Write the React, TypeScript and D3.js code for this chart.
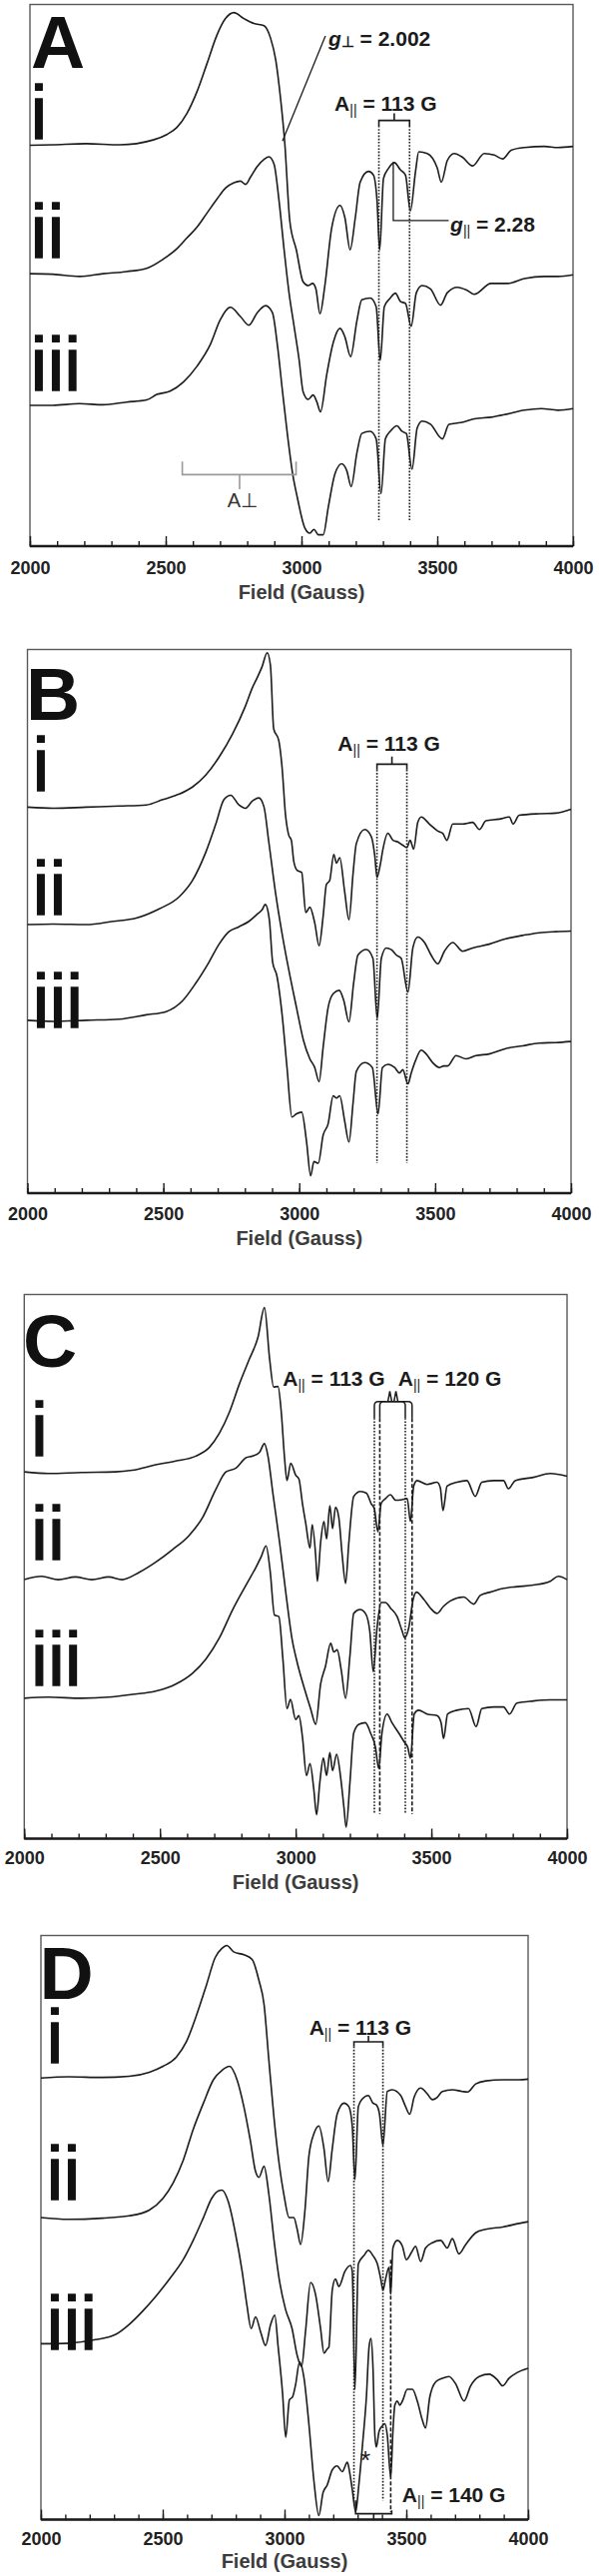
import React, { useEffect, useRef } from "react";
import * as d3 from "d3";

type Pt = [number, number];

// EPR spectra, [field (G), intensity in % of plot height]
const traceAi: Pt[] = [[2000,74.0],[2084,74.1],[2207,74.3],[2331,74.1],[2454,75.0],[2504,76.0],[2541,77.3],[2578,79.9],[2615,83.9],[2652,89.1],[2689,94.4],[2720,97.4],[2751,98.5],[2788,97.4],[2825,96.5],[2862,96.1],[2886,93.8],[2905,89.8],[2923,82.6],[2938,74.7],[2957,60.0],[2981,54.7],[3006,48.8],[3025,48.1],[3041,48.5],[3053,47.5],[3068,42.9],[3086,48.1],[3111,58.7],[3142,62.9],[3160,60.6],[3179,54.7],[3198,60.6],[3216,67.2],[3247,69.2],[3265,68.5],[3278,63.9],[3288,54.7],[3302,67.9],[3321,69.8],[3342,70.8],[3364,69.5],[3383,68.5],[3401,61.9],[3420,69.2],[3432,72.8],[3463,72.5],[3500,69.8],[3515,67.2],[3537,71.2],[3562,72.5],[3593,71.8],[3630,70.2],[3673,72.5],[3710,72.2],[3741,71.5],[3772,73.1],[3821,73.6],[3895,73.8],[3944,73.6],[4000,73.8]];
const traceAii: Pt[] = [[2000,50.3],[2084,50.2],[2183,49.8],[2269,50.3],[2356,50.7],[2430,51.3],[2491,53.0],[2541,54.9],[2578,56.9],[2615,58.9],[2652,61.5],[2689,64.1],[2720,66.1],[2751,67.1],[2775,67.4],[2794,66.8],[2812,68.1],[2837,70.1],[2862,71.4],[2880,71.9],[2899,70.5],[2917,63.9],[2936,54.7],[2954,46.8],[2973,40.5],[2991,34.5],[3006,28.5],[3025,27.1],[3043,27.9],[3056,26.7],[3070,24.8],[3093,31.7],[3117,37.6],[3142,40.2],[3160,38.6],[3181,35.0],[3204,41.6],[3222,45.5],[3253,45.8],[3275,44.2],[3290,34.3],[3305,44.2],[3327,45.8],[3346,46.7],[3364,45.2],[3383,44.8],[3404,40.6],[3423,46.8],[3444,48.1],[3475,47.5],[3512,44.5],[3537,46.8],[3574,47.8],[3611,47.2],[3636,46.5],[3698,48.5],[3759,48.5],[3821,49.4],[3895,49.8],[3944,49.8],[4000,50.1]];
const traceAiii: Pt[] = [[2000,26.0],[2084,26.0],[2183,26.3],[2269,26.1],[2356,26.6],[2430,27.0],[2467,28.0],[2516,28.6],[2565,30.3],[2615,33.2],[2664,37.2],[2701,41.8],[2738,44.1],[2775,42.4],[2806,40.8],[2837,43.1],[2868,44.4],[2893,43.1],[2911,37.2],[2930,28.6],[2948,20.7],[2967,13.5],[2985,8.9],[3012,3.4],[3031,2.4],[3046,3.1],[3062,2.1],[3080,2.1],[3099,7.3],[3123,13.3],[3148,15.2],[3167,13.9],[3183,11.0],[3204,17.2],[3222,20.8],[3253,21.2],[3275,19.8],[3293,9.7],[3309,19.8],[3327,21.2],[3352,22.2],[3370,21.2],[3386,20.8],[3407,14.2],[3426,21.8],[3444,23.1],[3475,22.5],[3519,19.8],[3543,22.5],[3586,22.8],[3636,23.5],[3698,23.8],[3759,24.4],[3821,25.1],[3883,25.4],[3944,25.1],[4000,25.4]];

const traceBi: Pt[] = [[2000,71.0],[2095,70.8],[2217,71.0],[2339,71.2],[2437,71.4],[2498,72.4],[2558,73.4],[2607,74.7],[2656,76.9],[2705,80.2],[2754,84.4],[2802,89.6],[2827,92.9],[2845,94.8],[2863,96.8],[2882,99.4],[2894,97.1],[2906,85.4],[2924,83.4],[2937,78.2],[2949,69.8],[2961,65.9],[2971,64.9],[2980,61.0],[2992,59.4],[3009,59.0],[3024,51.6],[3039,52.6],[3057,49.7],[3073,45.5],[3088,51.0],[3100,56.8],[3112,57.5],[3127,62.3],[3137,60.7],[3149,61.7],[3167,55.5],[3183,50.3],[3198,58.8],[3210,64.3],[3241,66.9],[3265,65.6],[3278,62.0],[3286,58.1],[3298,60.4],[3308,63.3],[3326,66.2],[3345,64.9],[3363,64.6],[3381,64.0],[3396,63.6],[3408,64.9],[3421,63.3],[3436,68.2],[3449,69.2],[3479,67.9],[3510,66.6],[3528,66.2],[3543,64.9],[3565,67.9],[3601,67.9],[3638,68.2],[3663,66.9],[3687,68.5],[3736,68.8],[3773,69.2],[3787,67.9],[3809,69.5],[3883,69.8],[3944,69.9],[4000,70.6]];
const traceBii: Pt[] = [[2000,49.4],[2095,49.5],[2217,49.4],[2315,50.0],[2400,50.6],[2485,52.3],[2558,54.5],[2607,57.5],[2656,62.7],[2693,67.9],[2723,72.4],[2748,73.2],[2778,71.4],[2802,70.8],[2827,72.1],[2851,72.7],[2870,71.1],[2888,64.6],[2912,55.5],[2937,47.7],[2961,41.2],[2990,34.1],[3015,28.2],[3039,24.7],[3057,23.1],[3073,20.5],[3088,26.9],[3106,34.1],[3125,36.7],[3147,37.3],[3164,35.4],[3183,31.5],[3200,38.6],[3216,43.8],[3247,44.8],[3271,43.2],[3287,32.1],[3302,43.2],[3320,45.1],[3339,44.8],[3357,43.8],[3375,43.2],[3400,37.0],[3418,45.1],[3436,47.1],[3461,46.1],[3485,43.8],[3510,42.2],[3534,44.5],[3565,46.1],[3601,44.5],[3638,45.1],[3699,45.8],[3760,46.8],[3822,47.4],[3883,47.9],[3944,48.1],[4000,48.2]];
const traceBiii: Pt[] = [[2000,31.8],[2095,31.6],[2217,31.8],[2339,32.0],[2437,32.8],[2510,33.4],[2571,35.4],[2619,38.6],[2668,42.5],[2705,45.8],[2741,48.1],[2778,49.0],[2815,50.0],[2845,51.3],[2863,52.1],[2875,53.1],[2890,50.3],[2902,42.5],[2918,39.9],[2937,32.8],[2955,23.1],[2973,14.0],[2990,14.6],[3009,14.9],[3027,9.4],[3042,3.2],[3054,5.8],[3070,5.5],[3088,10.7],[3106,12.7],[3125,17.9],[3137,17.5],[3149,17.9],[3167,13.3],[3183,9.4],[3198,16.6],[3210,22.4],[3241,24.0],[3269,23.1],[3290,14.6],[3306,23.1],[3326,23.7],[3351,23.1],[3369,22.1],[3381,22.7],[3400,20.1],[3412,22.1],[3428,24.4],[3449,26.3],[3467,25.6],[3491,24.0],[3516,23.1],[3531,23.4],[3546,23.4],[3577,25.3],[3614,24.7],[3650,25.3],[3699,25.6],[3760,26.6],[3822,27.1],[3883,27.6],[3944,27.7],[4000,27.9]];

const traceCi: Pt[] = [[2000,67.4],[2089,67.1],[2212,67.3],[2336,67.4],[2398,67.7],[2484,68.7],[2558,69.4],[2632,70.3],[2682,71.9],[2719,74.5],[2756,78.4],[2793,83.6],[2830,88.2],[2861,92.1],[2885,97.6],[2904,88.2],[2919,83.0],[2935,83.1],[2947,78.4],[2959,70.0],[2968,65.8],[2982,69.0],[3000,66.8],[3012,66.1],[3025,61.6],[3037,58.0],[3053,53.4],[3061,57.7],[3074,51.8],[3080,47.3],[3092,54.4],[3104,58.3],[3114,55.1],[3126,61.2],[3136,57.0],[3147,60.9],[3159,59.0],[3172,51.8],[3184,46.9],[3196,54.4],[3214,62.9],[3239,63.8],[3261,63.5],[3278,61.6],[3290,60.6],[3303,56.4],[3315,61.6],[3331,62.5],[3349,63.2],[3368,62.2],[3392,62.3],[3411,62.5],[3423,58.3],[3435,64.8],[3447,65.8],[3484,65.1],[3521,65.5],[3533,64.5],[3543,60.3],[3558,64.8],[3594,65.5],[3631,65.8],[3662,62.9],[3686,65.5],[3729,65.8],[3766,65.8],[3784,64.3],[3809,65.8],[3876,66.4],[3938,67.1],[4000,66.6]];
const traceCii: Pt[] = [[2000,47.6],[2064,48.2],[2126,47.6],[2188,48.1],[2249,47.6],[2311,48.1],[2360,47.6],[2422,48.9],[2484,50.8],[2546,53.1],[2607,55.7],[2657,59.0],[2706,64.2],[2743,67.4],[2780,68.1],[2817,70.0],[2842,70.3],[2867,71.0],[2885,72.6],[2898,70.3],[2916,63.5],[2941,54.4],[2965,44.7],[2986,36.9],[3006,32.3],[3031,27.8],[3055,23.9],[3074,21.0],[3092,28.4],[3110,31.7],[3129,35.9],[3141,34.3],[3153,34.7],[3168,31.0],[3184,25.8],[3200,33.6],[3214,41.4],[3237,42.1],[3257,41.4],[3273,38.2],[3286,30.7],[3300,38.8],[3315,43.4],[3331,43.4],[3349,42.4],[3374,40.8],[3392,38.2],[3402,36.9],[3417,38.8],[3433,44.0],[3445,45.3],[3472,44.0],[3496,42.4],[3521,41.4],[3545,42.7],[3570,43.7],[3619,44.4],[3656,43.1],[3680,44.7],[3717,45.3],[3766,46.0],[3815,46.3],[3876,46.6],[3938,47.3],[3968,48.2],[4000,47.6]];
const traceCiii: Pt[] = [[2000,25.8],[2089,26.0],[2212,25.8],[2311,26.0],[2398,26.5],[2484,27.1],[2558,28.4],[2620,30.4],[2669,33.0],[2719,36.9],[2768,42.1],[2817,46.6],[2854,49.9],[2873,51.8],[2891,53.8],[2906,49.2],[2922,41.1],[2938,40.8],[2953,33.0],[2968,23.9],[2981,25.6],[3000,21.9],[3012,22.6],[3025,18.7],[3040,11.6],[3053,13.8],[3067,9.0],[3077,4.4],[3089,10.3],[3102,14.8],[3114,11.6],[3126,15.8],[3136,12.5],[3151,15.5],[3165,11.6],[3178,5.7],[3186,2.1],[3200,10.3],[3214,19.4],[3233,21.0],[3257,21.3],[3276,19.4],[3294,16.8],[3306,12.9],[3318,19.4],[3337,22.9],[3355,21.3],[3380,19.4],[3401,17.7],[3413,16.8],[3423,14.8],[3437,22.9],[3453,23.6],[3484,22.9],[3521,22.6],[3536,21.3],[3545,18.4],[3560,22.9],[3594,23.6],[3637,23.9],[3665,20.6],[3686,23.9],[3729,24.2],[3766,24.2],[3788,22.9],[3815,24.9],[3876,25.3],[3938,25.5],[4000,25.5]];

const traceDi: Pt[] = [[2000,75.6],[2113,75.8],[2252,75.7],[2362,75.9],[2445,76.6],[2501,77.6],[2556,79.2],[2597,81.8],[2639,86.4],[2680,91.6],[2715,96.2],[2743,97.8],[2763,98.3],[2791,97.2],[2833,96.7],[2867,95.9],[2895,92.3],[2916,88.2],[2936,78.5],[2957,68.7],[2978,60.9],[2998,55.5],[3019,51.7],[3038,51.7],[3052,49.7],[3066,47.1],[3084,53.0],[3100,62.2],[3121,66.1],[3141,67.4],[3162,63.5],[3179,57.9],[3196,63.5],[3216,69.4],[3244,71.3],[3264,70.7],[3278,67.4],[3289,58.2],[3303,70.7],[3319,72.0],[3344,72.6],[3363,71.3],[3377,71.0],[3390,69.4],[3404,64.1],[3422,73.3],[3442,73.6],[3477,72.6],[3497,70.7],[3514,69.4],[3532,72.3],[3559,73.9],[3586,72.9],[3607,71.9],[3627,72.3],[3648,73.3],[3689,73.6],[3730,73.3],[3751,73.2],[3785,74.6],[3826,75.1],[3895,75.3],[3963,75.3],[4000,75.4]];
const traceDii: Pt[] = [[2000,51.7],[2113,51.4],[2252,51.6],[2362,52.0],[2445,53.0],[2501,55.0],[2542,57.6],[2584,61.5],[2625,66.8],[2667,71.3],[2708,75.3],[2743,76.9],[2774,77.6],[2805,75.3],[2833,70.7],[2860,64.8],[2881,59.6],[2895,58.6],[2916,60.5],[2936,55.6],[2957,47.8],[2978,41.2],[3004,36.0],[3031,32.7],[3052,28.1],[3070,26.2],[3086,32.1],[3107,40.6],[3127,38.6],[3148,32.7],[3162,28.5],[3175,29.2],[3182,29.5],[3196,39.3],[3209,41.2],[3223,39.9],[3248,42.5],[3271,43.5],[3278,42.5],[3289,22.3],[3303,43.8],[3326,45.2],[3344,46.1],[3363,45.2],[3381,43.8],[3395,41.2],[3404,39.3],[3415,41.2],[3429,43.2],[3436,38.6],[3445,46.5],[3463,47.8],[3484,46.8],[3500,44.5],[3522,45.8],[3538,46.8],[3559,44.2],[3579,46.5],[3607,47.4],[3641,47.8],[3668,46.5],[3689,48.1],[3716,45.5],[3744,47.1],[3785,49.1],[3826,49.7],[3895,50.1],[3963,50.7],[4000,51.0]];
const traceDiii: Pt[] = [[2000,30.1],[2113,30.2],[2224,30.8],[2307,31.7],[2362,33.4],[2418,35.7],[2473,38.3],[2528,41.2],[2584,44.5],[2625,47.8],[2667,51.7],[2701,55.0],[2729,56.3],[2743,56.4],[2770,54.3],[2798,49.1],[2826,42.5],[2846,36.6],[2863,32.7],[2881,34.7],[2902,32.1],[2922,29.8],[2943,33.4],[2960,35.0],[2974,29.5],[2992,21.6],[3005,14.1],[3020,20.5],[3033,21.0],[3045,23.0],[3062,27.0],[3079,24.5],[3100,16.4],[3121,6.5],[3141,0.7],[3158,4.6],[3175,5.9],[3196,8.5],[3216,9.2],[3237,8.2],[3258,9.8],[3267,8.2],[3278,5.2],[3292,1.3],[3305,5.9],[3322,13.7],[3336,20.9],[3347,29.5],[3355,31.0],[3363,26.2],[3371,14.4],[3377,12.4],[3388,15.1],[3401,16.0],[3412,16.4],[3422,14.4],[3436,7.2],[3445,15.1],[3453,19.6],[3463,20.3],[3473,19.6],[3484,20.3],[3504,22.3],[3525,22.3],[3545,20.3],[3566,17.0],[3579,15.7],[3596,20.9],[3621,23.6],[3648,24.2],[3675,24.5],[3703,23.2],[3737,20.3],[3764,22.9],[3799,24.5],[3840,24.9],[3874,23.9],[3895,22.9],[3922,24.2],[3956,25.2],[4000,25.9]];

const majorTicks = [2000, 2500, 3000, 3500, 4000];
const minorTicks = d3.range(2000, 4001, 100);
const romanLabels = ["i", "ii", "iii"];

const ink = "#1b1b1b";
const armFont = "'Liberation Sans', Arial, sans-serif";

type Scale = d3.ScaleLinear<number, number>;

const AParallel = ({ x, y, value, anchor = "middle" }: { x: number; y: number; value: string; anchor?: string }) => (
  <text x={x} y={y} textAnchor={anchor} fontFamily={armFont} fontWeight="bold" fontSize={21} fill={ink}>
    A<tspan fontSize={14} fontWeight="normal" dy={4}>||</tspan>
    <tspan dy={-4}>{` = ${value}`}</tspan>
  </text>
);

const Bracket = ({ x, y, f0, f1, top, bottom, tip }: { x: Scale; y: Scale; f0: number; f1: number; top: number; bottom: number; tip: number }) => {
  const xc = x((f0 + f1) / 2);
  return (
    <path
      d={`M${x(f0)},${y(bottom)}V${y(top)}H${x(f1)}V${y(bottom)}M${xc},${y(top)}V${y(tip)}`}
      fill="none" stroke={ink} strokeWidth={1.6}
    />
  );
};

const VLine = ({ x, y, f, from, to, dash }: { x: Scale; y: Scale; f: number; from: number; to: number; dash: string }) => (
  <line x1={x(f)} x2={x(f)} y1={y(from)} y2={y(to)} stroke={ink} strokeWidth={1.6} strokeDasharray={dash} />
);

const dotted = "1.6 1.6";
const dashed = "4 2";

const annotateA = (x: Scale, y: Scale) => (
  <g>
    <line x1={x(2930)} y1={y(74.8)} x2={x(3088)} y2={y(94.2)} stroke={ink} strokeWidth={1.3} />
    <text x={x(3099)} y={y(92.4)} fontFamily={armFont} fontWeight="bold" fontSize={21} fill={ink}>
      <tspan fontStyle="italic">g</tspan>
      <tspan fontSize={15} dy={1}>⊥</tspan>
      <tspan dy={-1}>{" = 2.002"}</tspan>
    </text>
    <AParallel x={x(3310)} y={y(80.4)} value="113 G" />
    <Bracket x={x} y={y} f0={3285} f1={3398} top={78.6} bottom={77.6} tip={79.9} />
    <VLine x={x} y={y} f={3285} from={77.6} to={4.8} dash={dotted} />
    <VLine x={x} y={y} f={3398} from={77.6} to={4.8} dash={dotted} />
    <path d={`M${x(3338)},${y(70.9)}V${y(60.1)}H${x(3542)}`} fill="none" stroke={ink} strokeWidth={1.3} />
    <text x={x(3548)} y={y(58.1)} fontFamily={armFont} fontWeight="bold" fontSize={21} fill={ink}>
      <tspan fontStyle="italic">g</tspan>
      <tspan fontSize={14} fontWeight="normal" dy={4}>||</tspan>
      <tspan dy={-4}>{" = 2.28"}</tspan>
    </text>
    <path
      d={`M${x(2561)},${y(15.6)}V${y(13.2)}H${x(2980)}V${y(15.6)}M${x(2772)},${y(13.2)}V${y(10.5)}`}
      fill="none" stroke="#9a9a9a" strokeWidth={1.6}
    />
    <text x={x(2783)} y={y(7.2)} textAnchor="middle" fontFamily={armFont} fontSize={20} fill="#333">A⊥</text>
  </g>
);

const annotateB = (x: Scale, y: Scale) => (
  <g>
    <AParallel x={x(3330)} y={y(81.4)} value="113 G" />
    <Bracket x={x} y={y} f0={3286} f1={3396} top={78.9} bottom={77.9} tip={80.3} />
    <VLine x={x} y={y} f={3286} from={77.9} to={5.5} dash={dotted} />
    <VLine x={x} y={y} f={3396} from={77.9} to={5.5} dash={dotted} />
  </g>
);

const roundBracket = (x: Scale, y: Scale, f0: number, f1: number, top: number, bottom: number, tip: number) => {
  const r = 4;
  const x0 = x(f0), x1 = x(f1), yt = y(top), yb = y(bottom), xc = x((f0 + f1) / 2);
  return `M${x0},${yb}V${yt + r}Q${x0},${yt} ${x0 + r},${yt}H${x1 - r}Q${x1},${yt} ${x1},${yt + r}V${yb}M${xc - 2},${yt}L${xc},${y(tip)}L${xc + 2},${yt}`;
};

const annotateC = (x: Scale, y: Scale) => (
  <g>
    <AParallel x={x(3141)} y={y(83.2)} value="113 G" />
    <AParallel x={x(3568)} y={y(83.2)} value="120 G" />
    <path d={roundBracket(x, y, 3290, 3404, 80.3, 77.3, 82.2)} fill="none" stroke={ink} strokeWidth={1.5} />
    <path d={roundBracket(x, y, 3310, 3429, 80.3, 77.3, 82.2)} fill="none" stroke={ink} strokeWidth={1.5} />
    <VLine x={x} y={y} f={3290} from={77.3} to={4.5} dash={dotted} />
    <VLine x={x} y={y} f={3404} from={77.3} to={4.5} dash={dotted} />
    <VLine x={x} y={y} f={3310} from={77.3} to={4.5} dash={dashed} />
    <VLine x={x} y={y} f={3429} from={77.3} to={4.5} dash={dashed} />
  </g>
);

const annotateD = (x: Scale, y: Scale) => (
  <g>
    <AParallel x={x(3311)} y={y(83.0)} value="113 G" />
    <Bracket x={x} y={y} f0={3285} f1={3404} top={81.8} bottom={81.0} tip={82.8} />
    <VLine x={x} y={y} f={3285} from={81.0} to={3.3} dash={dotted} />
    <VLine x={x} y={y} f={3404} from={81.0} to={3.3} dash={dotted} />
    <VLine x={x} y={y} f={3436} from={44.5} to={1.3} dash={dashed} />
    <path
      d={`M${x(3292)},${y(3.3)}V${y(1.0)}H${x(3440)}V${y(1.6)}M${x(3366)},${y(1.0)}V${y(0)}`}
      fill="none" stroke={ink} strokeWidth={1.6}
    />
    <AParallel x={x(3483)} y={y(3.0)} value="140 G" anchor="start" />
    <text x={x(3332)} y={y(8.6)} textAnchor="middle" fontFamily={armFont} fontSize={26} fill={ink}>*</text>
  </g>
);

type PanelDef = {
  letter: string;
  box: { left: number; right: number; top: number; bottom: number };
  traces: Pt[][];
  letterPos: [number, number];
  romanX: number;
  romanY: number[];
  labelGap: number;
  titleGap: number;
  annotate: (x: Scale, y: Scale) => React.ReactNode;
};

const panels: PanelDef[] = [
  { letter: "A", box: { left: 30, right: 574, top: 4.5, bottom: 547 }, traces: [traceAi, traceAii, traceAiii],
    letterPos: [31, 68], romanX: 30.5, romanY: [139, 258, 391], labelGap: 28, titleGap: 53, annotate: annotateA },
  { letter: "B", box: { left: 27.5, right: 572, top: 650.5, bottom: 1195 }, traces: [traceBi, traceBii, traceBiii],
    letterPos: [26, 721], romanX: 32.5, romanY: [792, 916, 1029], labelGap: 27, titleGap: 52, annotate: annotateB },
  { letter: "C", box: { left: 24.3, right: 568, top: 1296.5, bottom: 1841.5 }, traces: [traceCi, traceCii, traceCiii],
    letterPos: [23, 1369], romanX: 31, romanY: [1458, 1562, 1688], labelGap: 26, titleGap: 50, annotate: annotateC },
  { letter: "D", box: { left: 41, right: 529, top: 1938.5, bottom: 2523.5 }, traces: [traceDi, traceDii, traceDiii],
    letterPos: [39.5, 2002], romanX: 46.5, romanY: [2066, 2203, 2353], labelGap: 26, titleGap: 48, annotate: annotateD },
];

const Panel = ({ def }: { def: PanelDef }) => {
  const axisRef = useRef<SVGGElement>(null);
  const { box } = def;

  const x = d3.scaleLinear().domain([2000, 4000]).range([box.left, box.right]);
  const y = d3.scaleLinear().domain([0, 100]).range([box.bottom, box.top]);

  const line = d3.line<Pt>()
    .x(d => x(d[0]))
    .y(d => y(d[1]))
    .curve(d3.curveMonotoneX);

  useEffect(() => {
    const g = d3.select(axisRef.current);
    g.selectAll("*").remove();

    // Minor ticks every 100 G, pointing into the plot.
    g.append("g")
      .call(d3.axisBottom(x).tickValues(minorTicks).tickSize(-5).tickSizeOuter(0).tickFormat(() => ""))
      .call(s => s.select(".domain").remove());

    // Major ticks with labels.
    const major = g.append("g")
      .call(d3.axisBottom(x).tickValues(majorTicks).tickSize(-10).tickSizeOuter(0)
        .tickPadding(def.labelGap - 13).tickFormat(d3.format("d")))
      .call(s => s.select(".domain").remove());
    major.selectAll("text")
      .attr("font-family", armFont)
      .attr("font-weight", "bold")
      .attr("font-size", 18)
      .attr("fill", "#222");
    g.selectAll("g.tick line").attr("stroke", ink).attr("stroke-width", 1.4);
  }, []);

  return (
    <g>
      <rect x={box.left} y={box.top} width={box.right - box.left} height={box.bottom - box.top}
        fill="none" stroke="#5a5a5a" strokeWidth={1.4} />
      <line x1={box.left} x2={box.right} y1={box.bottom} y2={box.bottom} stroke={ink} strokeWidth={2.4} />
      <g ref={axisRef} transform={`translate(0,${box.bottom})`} />
      <text x={(box.left + box.right) / 2} y={box.bottom + def.titleGap} textAnchor="middle"
        fontFamily={armFont} fontWeight="bold" fontSize={20} fill="#3c3c3c">Field (Gauss)</text>

      {def.traces.map((t, i) => (
        <path key={i} d={line(t) || ""} fill="none" stroke={ink} strokeWidth={1.6} strokeLinejoin="round" />
      ))}

      <text x={def.letterPos[0]} y={def.letterPos[1]} fontFamily={armFont} fontWeight="bold"
        fontSize={75} fill="#111">{def.letter}</text>
      {romanLabels.map((r, i) => (
        <text key={r} x={def.romanX} y={def.romanY[i]} fontFamily={armFont} fontSize={76}
          fill="#111" stroke="#111" strokeWidth={1.3}>{r}</text>
      ))}

      {def.annotate(x, y)}
    </g>
  );
};

const App = () => (
  <svg width={600} height={2580} viewBox="0 0 600 2580"
    style={{ position: "absolute", left: 0, top: 0, background: "#fff" }}>
    <rect width={600} height={2580} fill="#fff" />
    {panels.map(p => <Panel key={p.letter} def={p} />)}
  </svg>
);

export default App;
